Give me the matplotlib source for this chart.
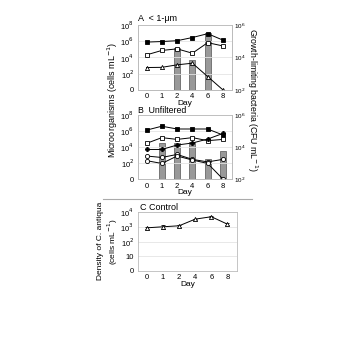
import numpy as np
from matplotlib import pyplot as plt
from matplotlib.ticker import FixedLocator, FixedFormatter, NullLocator

days = ['0', '1', '2', '4', '6', '8']
nan = np.nan

# panel A (< 1 um)
a_filled_sq = [7.4e5, 8.7e5, 1.1e6, 2.7e6, 8e6, 1.3e6]
a_open_sq = [2e4, 7e4, 1.1e5, 3.2e4, 6.3e5, 2.5e5]
a_triangle = [5.6e2, 5.9e2, 1.2e3, 1.9e3, 44, 1]
a_bars = [nan, nan, 3.8e4, 7e3, 3.2e5, nan]

# panel B (unfiltered)
b_filled_sq = [1.3e6, 4e6, 1.8e6, 1.8e6, 1.8e6, 3.2e5]
b_open_sq = [2.9e4, 1.5e5, 9e4, 1.5e5, 6.3e4, 9e4]
b_plus = [5e3, 5e3, 1.8e4, 3.2e4, 1e5, 5e5]
b_circle = [7.6e2, 5e2, 1.2e3, 2.9e2, 1.4e2, 2.9e2]
b_triangle = [2e2, 90, 7.6e2, 2.4e2, 90, 1]
b_bars = [nan, 1.9e4, 1.7e4, 2.1e4, 1.7e3, 5.9e3]

# panel C (control)
c_density = [850, 1000, 1170, 3300, 4800, 1500]
c_err = [120, 250, 150, 300, 400, 200]

plt.rcParams['font.family'] = ['Liberation Sans', 'DejaVu Sans']
plt.rcParams['font.size'] = 6

fig = plt.figure(figsize=(3.56, 3.64), dpi=100)
x = np.arange(len(days))
grey = '#bbbbbb'


def left_axis(ax, exps, labels):
    ax.set_yscale('log')
    ax.set_ylim(1, 10.0 ** exps[-1])
    ax.yaxis.set_major_locator(FixedLocator([10.0 ** e for e in exps]))
    ax.yaxis.set_major_formatter(FixedFormatter(labels))
    ax.yaxis.set_minor_locator(NullLocator())
    ax.grid(axis='y', color='#e4e4e4', lw=0.6)
    ax.set_axisbelow(True)
    ax.set_xticks(x)
    ax.set_xticklabels(days)
    ax.set_xlim(-0.55, 5.6)
    ax.tick_params(length=0, labelsize=5.5, pad=3)
    ax.tick_params(axis='x', pad=2.5)
    for s in ax.spines.values():
        s.set_color(grey)
        s.set_linewidth(0.6)


def bar_axis(ax, bars):
    tw = ax.twinx()
    tw.bar(x, bars, width=0.38, bottom=1e2, color='#999999', edgecolor='#555555', lw=0.5, zorder=1)
    tw.set_yscale('log')
    tw.set_ylim(1e2, 1e6)
    tw.yaxis.set_major_locator(FixedLocator([1e2, 1e4, 1e6]))
    tw.yaxis.set_major_formatter(FixedFormatter(['10$^2$', '10$^4$', '10$^6$']))
    tw.yaxis.set_minor_locator(NullLocator())
    tw.tick_params(length=0, labelsize=4.5, pad=1.5)
    for s in tw.spines.values():
        s.set_color(grey)
        s.set_linewidth(0.6)
    ax.set_zorder(tw.get_zorder() + 1)
    ax.patch.set_visible(False)
    return tw


labs8 = ['0', '10$^2$', '10$^4$', '10$^6$', '10$^8$']
kw = dict(color='black', lw=0.7, ms=3, mew=0.6)

# A
axA = fig.add_axes([0.388, 0.753, 0.264, 0.179])
bar_axis(axA, a_bars)
axA.plot(x, a_filled_sq, marker='s', mfc='black', **kw)
axA.plot(x, a_open_sq, marker='s', mfc='white', **kw)
axA.plot(x, a_triangle, marker='^', mfc='white', **kw)
left_axis(axA, [0, 2, 4, 6, 8], labs8)
axA.set_xlabel('Day', fontsize=6, labelpad=-0.5)
axA.text(0, 1.03, 'A  < 1-\u03bcm', transform=axA.transAxes, fontsize=6.5, va='bottom')

# B
axB = fig.add_axes([0.388, 0.508, 0.264, 0.176])
bar_axis(axB, b_bars)
axB.plot(x, b_filled_sq, marker='s', mfc='black', **kw)
axB.plot(x, b_open_sq, marker='s', mfc='white', **kw)
axB.plot(x, b_plus, marker='P', mfc='black', **kw)
axB.plot(x, b_circle, marker='o', mfc='white', **kw)
axB.plot(x, b_triangle, marker='o', mfc='white', **kw)
left_axis(axB, [0, 2, 4, 6, 8], labs8)
axB.set_xlabel('Day', fontsize=6, labelpad=-0.5)
axB.text(0, 0.995, 'B  Unfiltered', transform=axB.transAxes, fontsize=6.3, va='bottom')

fig.text(0.318, 0.725, 'Microorganisms (cells mL$^{-1}$)', rotation=90, ha='center', va='center', fontsize=6.5)
fig.text(0.708, 0.725, 'Growth-limiting bacteria (CFU mL$^{-1}$)', rotation=-90, ha='center', va='center', fontsize=6.3)

# separator
fig.add_artist(plt.Line2D([0.29, 0.708], [0.453, 0.453], color='#aaaaaa', lw=0.8))

# C
axC = fig.add_axes([0.388, 0.2555, 0.278, 0.162])
axC.errorbar(x, c_density, yerr=c_err, marker='^', mfc='white', capsize=1.5, elinewidth=0.5, **kw)
left_axis(axC, [0, 1, 2, 3, 4], ['0', '10', '10$^2$', '10$^3$', '10$^4$'])
axC.set_xlabel('Day', fontsize=6, labelpad=-0.5)
axC.text(0.02, 1.0, 'C Control', transform=axC.transAxes, fontsize=6.5, va='bottom')
fig.text(0.305, 0.337, 'Density of C. antiqua\n(cells mL$^{-1}$)', rotation=90, ha='center', va='center',
         fontsize=6, multialignment='center', linespacing=1.2)

fig.savefig('out.png', dpi=100)
